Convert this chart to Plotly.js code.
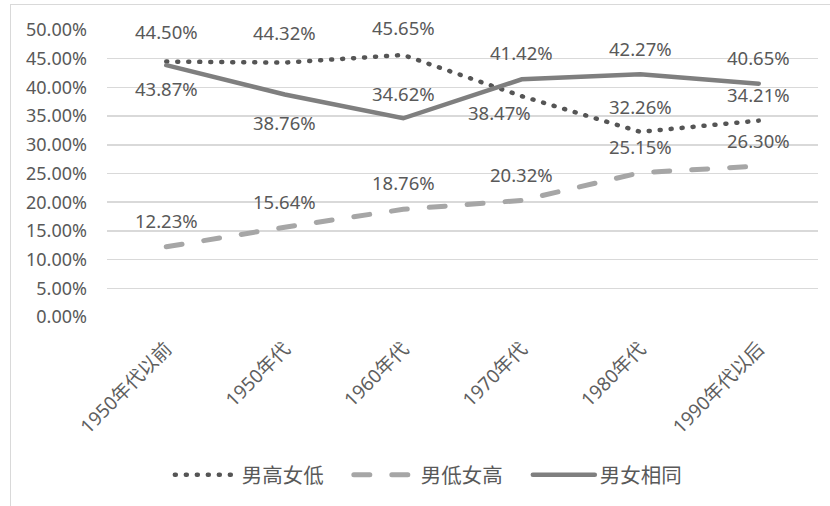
<!DOCTYPE html>
<html>
<head>
<meta charset="utf-8">
<script src="https://cdn.plot.ly/plotly-3.0.1.min.js"></script>
<style>
  html, body { margin: 0; padding: 0; background: #ffffff; }
  #frame {
    position: absolute; left: 10px; top: 4px; width: 830px; height: 510px;
    border-left: 1.5px solid #d9d9d9; border-top: 1.5px solid #d9d9d9;
  }
  #chart { position: absolute; left: 0; top: 0; width: 830px; height: 506px; }
  .scatterlayer .js-line, .legend .js-line { stroke-linecap: round; }
</style>
</head>
<body>
<div id="frame"></div>
<div id="chart"></div>
<script>
// Decades of marriage
const categories = ['1950年代以前', '1950年代', '1960年代', '1970年代', '1980年代', '1990年代以后'];

// Series names
const seriesNames = ['男高女低', '男低女高', '男女相同'];

// Shares (%) per decade
const maleHigher   = [44.50, 44.32, 45.65, 38.47, 32.26, 34.21];
const femaleHigher = [12.23, 15.64, 18.76, 20.32, 25.15, 26.30];
const sameLevel    = [43.87, 38.76, 34.62, 41.42, 42.27, 40.65];

// Y axis ticks
const yTicks = [0, 5, 10, 15, 20, 25, 30, 35, 40, 45, 50];

// Label placement (pixel shifts) for each series' value labels
const labelShift = [
  [[0, 30], [0, 30], [0, 27], [-22, -16], [0, 25], [0, 26]],
  [[0, 26], [0, 26], [0, 27], [0, 26], [0, 26], [0, 26]],
  [[0, -23], [0, -28], [0, 25], [0, 27], [0, 26], [0, 26]]
];

const textColor = '#595959';
const numFont = 'Noto Sans, Noto Sans CJK SC, sans-serif';
const cjkFont = 'Noto Sans CJK SC, Noto Sans, sans-serif';

const values = [maleHigher, femaleHigher, sameLevel];
const lineStyles = [
  { color: '#555555', width: 4.5, dash: '1px,10px' },
  { color: '#a6a6a6', width: 5, dash: '16px,22px' },
  { color: '#7f7f7f', width: 4.5, dash: 'solid' }
];

const traces = values.map((v, i) => ({
  type: 'scatter',
  mode: 'lines',
  name: seriesNames[i],
  x: categories,
  y: v,
  line: lineStyles[i],
  hoverinfo: 'skip'
}));

const annotations = [];
values.forEach((v, i) => {
  v.forEach((val, j) => {
    annotations.push({
      x: categories[j], y: val, xref: 'x', yref: 'y',
      text: val.toFixed(2) + '%',
      showarrow: false,
      xshift: labelShift[i][j][0],
      yshift: labelShift[i][j][1],
      font: { family: numFont, size: 18.5, color: textColor }
    });
  });
});

const layout = {
  width: 830, height: 506,
  margin: { l: 107, r: 12, t: 30, b: 188 },
  paper_bgcolor: 'rgba(0,0,0,0)',
  plot_bgcolor: 'rgba(0,0,0,0)',
  showlegend: true,
  legend: {
    orientation: 'h',
    x: 0.466, xanchor: 'center',
    y: -0.545, yanchor: 'middle',
    itemwidth: 62,
    entrywidth: 102,
    entrywidthmode: 'pixels',
    font: { family: cjkFont, size: 20.5, color: textColor },
    itemclick: false, itemdoubleclick: false
  },
  xaxis: {
    type: 'category',
    range: [-0.5, 5.5],
    tickangle: -45,
    showgrid: false,
    showline: false,
    zeroline: false,
    ticks: '',
    ticklabelstandoff: 16,
    tickfont: { family: numFont, size: 19, color: '#5f5f5f' },
    fixedrange: true
  },
  yaxis: {
    range: [0, 50],
    tickvals: yTicks,
    ticktext: yTicks.map(t => t.toFixed(2) + '%'),
    showgrid: true,
    gridcolor: '#d9d9d9',
    gridwidth: 1.5,
    zeroline: false,
    showline: false,
    ticks: '',
    ticklabelstandoff: 19,
    tickfont: { family: numFont, size: 18, color: textColor },
    fixedrange: true
  },
  annotations: annotations
};

Plotly.newPlot('chart', traces, layout, { staticPlot: true, displayModeBar: false });
</script>
</body>
</html>
